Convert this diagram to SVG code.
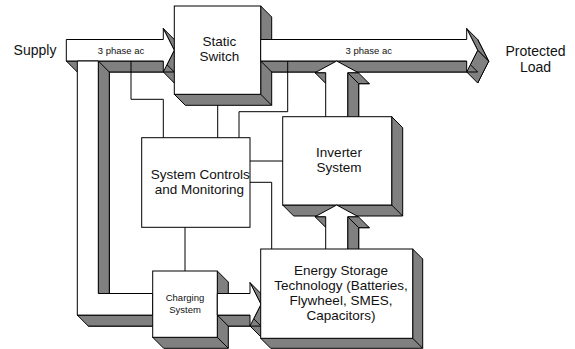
<svg xmlns="http://www.w3.org/2000/svg" width="575" height="349" viewBox="0 0 575 349">
<style>
.face{fill:#fff;stroke:#000;stroke-width:1;stroke-linejoin:miter}
.side{fill:#808080;stroke:#000;stroke-width:1;stroke-linejoin:miter}
.conn{fill:none;stroke:#000;stroke-width:1}
.t{font-family:"Liberation Sans",Arial,sans-serif;text-anchor:middle;fill:#111}
.big{font-size:13.5px}
.lbl{font-size:14px}
.sm{font-size:9.5px}
</style>
<rect width="575" height="349" fill="#fff"/>

<g id="supply-label"><text class="t lbl" x="35" y="54.5">Supply</text></g>

<g id="supply-arrow">
<polygon class="side" points="77.3,50.5 174.3,50.5 174.3,39.5 185.3,61.25 174.3,83 174.3,72 77.3,72"/>
<polygon class="side" points="163.3,28.5 174.3,50.25 185.3,61.25 174.3,39.5"/>
<polygon class="side" points="174.3,50.25 163.3,72 174.3,83 185.3,61.25"/>
<polygon class="side" points="163.3,61 66.3,61 77.3,72 174.3,72"/>
<polygon class="face" points="66.3,39.5 163.3,39.5 163.3,28.5 174.3,50.25 163.3,72 163.3,61 66.3,61"/>
<text class="t sm" x="121" y="53.5">3 phase ac</text>
</g>

<g id="bypass-pipe">
<polygon class="side" points="88.3,72 109.3,72 109.3,304.5 163.7,304.5 163.7,326.1 88.3,326.1"/>
<polygon class="side" points="98.3,61 98.3,293.5 109.3,304.5 109.3,72"/>
<polygon class="side" points="152.7,315.1 77.3,315.1 88.3,326.1 163.7,326.1"/>
<polygon class="face" points="77.3,61 98.3,61 98.3,293.5 152.7,293.5 152.7,315.1 77.3,315.1"/>
</g>

<g id="static-switch">
<polygon class="side" points="260.7,6 271.7,17 271.7,105.3 185.3,105.3 174.3,94.3 260.7,94.3"/>
<line class="conn" x1="260.7" y1="94.3" x2="271.7" y2="105.3"/>
<rect class="face" x="174.3" y="6" width="86.4" height="88.3"/>
<text class="t big" x="219.5" y="46">Static</text>
<text class="t big" x="219.5" y="61">Switch</text>
</g>

<g id="output-arrow">
<polygon class="side" points="271.7,50.5 477.7,50.5 477.7,39.5 488.7,61.25 477.7,83 477.7,72 271.7,72"/>
<polygon class="side" points="466.7,28.5 477.7,50.25 488.7,61.25 477.7,39.5"/>
<polygon class="side" points="477.7,50.25 466.7,72 477.7,83 488.7,61.25"/>
<polygon class="side" points="466.7,61 260.7,61 271.7,72 477.7,72"/>
<polygon class="face" points="260.7,39.5 466.7,39.5 466.7,28.5 477.7,50.25 466.7,72 466.7,61 260.7,61"/>
<text class="t sm" x="368.8" y="54">3 phase ac</text>
</g>

<g id="load-label">
<text class="t lbl" x="535.5" y="55.7">Protected</text>
<text class="t lbl" x="535.5" y="71.7">Load</text>
</g>

<g id="inverter-up-arrow">
<polygon class="side" points="336.7,127.7 336.7,83.7 326,83.7 347.7,72 369.3,83.7 358.7,83.7 358.7,127.7"/>
<polygon class="side" points="325.7,72.7 315,72.7 326,83.7 336.7,83.7"/>
<polygon class="side" points="358.3,72.7 347.7,72.7 358.7,83.7 369.3,83.7"/>
<polygon class="side" points="347.7,72.7 347.7,120 358.7,131 358.7,83.7"/>
<polygon class="face" points="325.7,120 325.7,72.7 315,72.7 336.7,61 358.3,72.7 347.7,72.7 347.7,120"/>
</g>

<g id="inverter">
<polygon class="side" points="391.7,116.7 402.7,127.7 402.7,216 293.7,216 282.7,205 391.7,205"/>
<line class="conn" x1="391.7" y1="205" x2="402.7" y2="216"/>
<rect class="face" x="282.7" y="116.7" width="109" height="88.3"/>
<text class="t big" x="339" y="156.7">Inverter</text>
<text class="t big" x="339" y="171.7">System</text>
</g>

<g id="storage-up-arrow">
<polygon class="side" points="336.7,271.7 336.7,227.7 326,227.7 347.7,216 369.3,227.7 358.7,227.7 358.7,271.7"/>
<polygon class="side" points="325.7,216.7 315,216.7 326,227.7 336.7,227.7"/>
<polygon class="side" points="358.3,216.7 347.7,216.7 358.7,227.7 369.3,227.7"/>
<polygon class="side" points="347.7,216.7 347.7,252 358.7,263 358.7,227.7"/>
<polygon class="face" points="325.7,252 325.7,216.7 315,216.7 336.7,205 358.3,216.7 347.7,216.7 347.7,252"/>
</g>

<g id="charging-system">
<polygon class="side" points="217.3,271 228.3,282 228.3,348.3 163.7,348.3 152.7,337.3 217.3,337.3"/>
<line class="conn" x1="217.3" y1="337.3" x2="228.3" y2="348.3"/>
<rect class="face" x="152.7" y="271" width="64.6" height="66.3"/>
<text class="t sm" x="185" y="301">Charging</text>
<text class="t sm" x="185" y="312.5">System</text>
</g>

<g id="charging-arrow">
<polygon class="side" points="228.3,304.5 261,304.5 261,293.6 272,315.3 261,337 261,326.1 228.3,326.1"/>
<polygon class="side" points="250,282.6 261,304.3 272,315.3 261,293.6"/>
<polygon class="side" points="261,304.3 250,326 261,337 272,315.3"/>
<polygon class="side" points="250,315.1 217.3,315.1 228.3,326.1 261,326.1"/>
<polygon class="face" points="217.3,293.5 250,293.5 250,282.6 261,304.3 250,326 250,315.1 217.3,315.1"/>
</g>

<g id="energy-storage">
<polygon class="side" points="412.7,249 422.7,259 422.7,348.3 270.7,348.3 260.7,338.3 412.7,338.3"/>
<line class="conn" x1="412.7" y1="338.3" x2="422.7" y2="348.3"/>
<rect class="face" x="260.7" y="249" width="152" height="89.3"/>
<text class="t big" x="341" y="275">Energy Storage</text>
<text class="t big" x="341" y="290">Technology (Batteries,</text>
<text class="t big" x="341" y="305">Flywheel, SMES,</text>
<text class="t big" x="341" y="319.7">Capacitors)</text>
</g>

<g id="system-controls">
<rect class="face" x="141.7" y="137.7" width="108.3" height="89.6"/>
<text class="t big" x="200.3" y="179.2">System Controls</text>
<text class="t big" x="199.3" y="193.8">and Monitoring</text>
</g>

<g id="connectors">
<path class="conn" d="M131,61 V99.3 H163.3 V137.7"/>
<path class="conn" d="M217.7,105.3 V137.7"/>
<path class="conn" d="M287.7,61 V111.7 H239 V137.7"/>
<path class="conn" d="M250,161 H282.7"/>
<path class="conn" d="M250,182.3 H271.7 V249"/>
<path class="conn" d="M185,227.3 V271"/>
</g>
</svg>
